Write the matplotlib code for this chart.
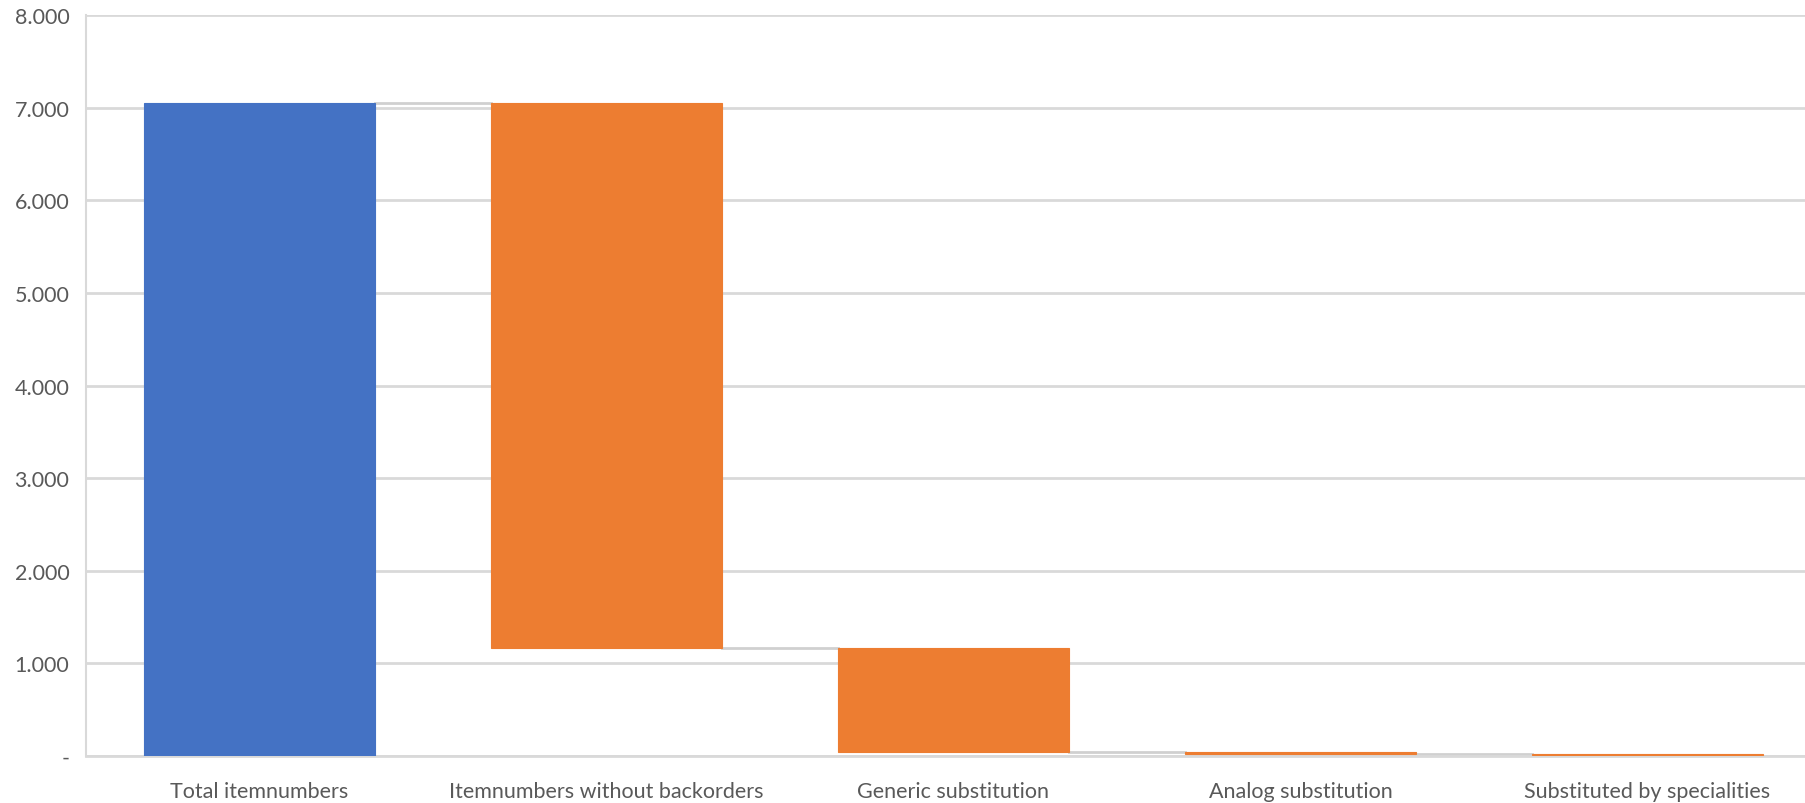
import numpy as np
import matplotlib
matplotlib.use("Agg")
import matplotlib.pyplot as plt
from matplotlib.ticker import FuncFormatter

# Waterfall data
categories = ["Total itemnumbers", "Itemnumbers without backorders",
              "Generic substitution", "Analog substitution",
              "Substituted by specialities"]
start_total = 7050
decreases = [5880, 1130, 15, 12]

BLUE = "#4472C4"
ORANGE = "#ED7D31"
GRID = "#D9D9D9"
TEXT = "#595959"

plt.rcParams['font.family'] = ['Lato', 'DejaVu Sans']

# running levels after each step
levels = [start_total]
for d in decreases:
    levels.append(levels[-1] - d)

bottoms = [0] + levels[1:]
heights = [start_total] + decreases
colors = [BLUE] + [ORANGE] * len(decreases)

fig = plt.figure(figsize=(18.06, 8.04), dpi=100)
# axes runs a bit past the right edge of the figure, like the original
ax = fig.add_axes([0.0476, 0.0585, 0.9607, 0.9215])

x = np.arange(len(categories))
width = 0.664
ax.bar(x, heights, bottom=bottoms, width=width, color=colors,
       edgecolor=colors, linewidth=0.8, zorder=3)

# connector lines between bars
for i in range(len(categories) - 1):
    ax.plot([x[i] + width / 2, x[i + 1] - width / 2], [levels[i], levels[i]],
            color="#D0D0D0", linewidth=2, zorder=2)

ax.set_xlim(-0.5, len(categories) - 0.5)
ax.set_ylim(0, 8000)
ax.set_yticks(np.arange(0, 8001, 1000))
ax.yaxis.set_major_formatter(FuncFormatter(
    lambda v, p: "-" if v == 0 else f"{int(v):,}".replace(",", ".")))
ax.set_xticks(x)
ax.set_xticklabels(categories)

ax.grid(axis="y", color=GRID, linewidth=2, zorder=0)
ax.set_axisbelow(True)
for side in ["top", "right"]:
    ax.spines[side].set_visible(False)
ax.spines["left"].set_color(GRID)
ax.spines["left"].set_linewidth(1.5)
ax.spines["bottom"].set_color(GRID)
ax.spines["bottom"].set_linewidth(2)

ax.tick_params(axis="both", length=0, colors=TEXT, labelsize=15.5)
ax.tick_params(axis="y", pad=12)
ax.tick_params(axis="x", pad=18)

fig.savefig("out.png", dpi=100, facecolor="white")
